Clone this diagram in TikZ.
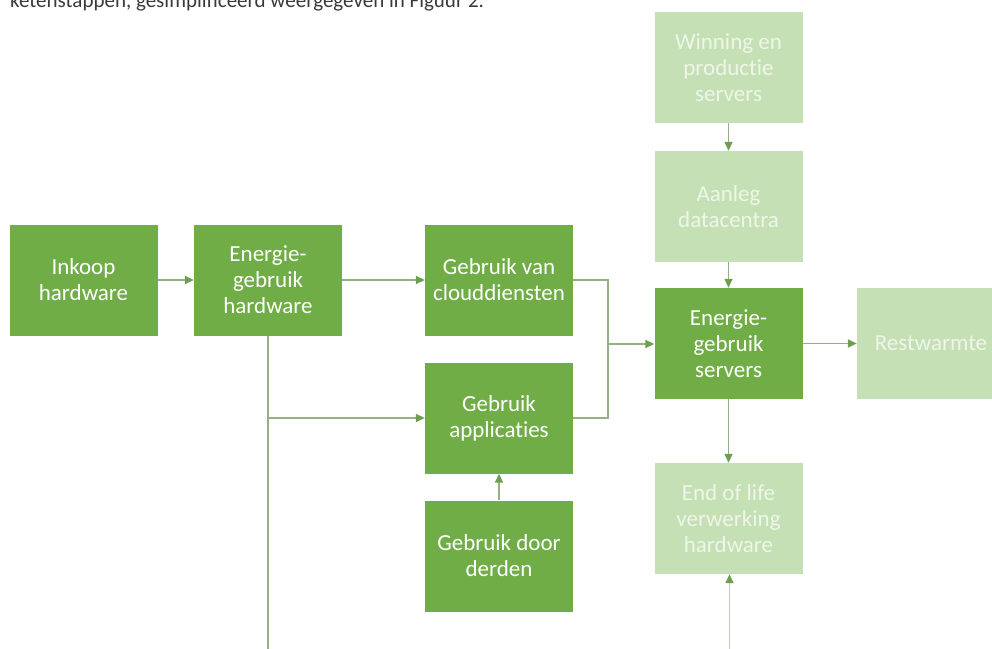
\documentclass[tikz,border=0pt]{standalone}
\usepackage{xcolor}
\usepackage{fontspec}
\setmainfont{Carlito}[Ligatures=NoCommon, RawFeature={-liga;-clig}]
\usepackage{tikz}
\usetikzlibrary{arrows.meta,positioning,calc}
\definecolor{darkgreen}{HTML}{70AD47}
\definecolor{lightgreen}{HTML}{C5E0B4}
\definecolor{paletext}{HTML}{EEF6E9}
\definecolor{linegreen}{HTML}{93B182}
\definecolor{tipgreen}{HTML}{6E9F50}
\definecolor{faintgreen}{HTML}{C2D1B8}
\definecolor{bodytext}{HTML}{3A3A3A}

\begin{document}
\begin{tikzpicture}[
    x=1pt, y=-1pt,
    box/.style={minimum width=148pt, minimum height=111pt, align=center, inner sep=2pt, font=\fontsize{23}{26}\selectfont},
    mainbox/.style={box, fill=darkgreen, text=white},
    sidebox/.style={box, fill=lightgreen, text=paletext},
    arrow/.style={-{Triangle[length=9pt, width=8pt, color=tipgreen]}, line width=1.5pt, draw=linegreen},
    plain/.style={line width=1.5pt, draw=linegreen}
]
\useasboundingbox (0,0) rectangle (992,648);
\clip (0,0) rectangle (992,648);
\fill[white] (0,0) rectangle (992,648);

% text above the figure, cut off at the top
\node[anchor=base west, inner sep=0pt, text=bodytext, font=\fontsize{21}{24}\selectfont] (caption) at (10,7) {ketenstappen, gesimplificeerd weergegeven in Figuur 2.};

% chain on the left
\node[mainbox] (inkoop) at (83.5,280) {Inkoop\\hardware};
\node[mainbox] (hwenergie) at (268,280) {Energie-\\gebruik\\hardware};
\node[mainbox] (cloud) at (499,280) {Gebruik van\\clouddiensten};
\node[mainbox] (apps) at (499,418) {Gebruik\\applicaties};
\node[mainbox] (derden) at (499,556) {Gebruik door\\derden};

% server column
\node[sidebox] (winning) at (728.5,67.5) {Winning en\\productie\\servers};
\node[sidebox] (aanleg) at (728.5,206.5) {Aanleg\\datacentra};
\node[mainbox] (srvenergie) at (728.5,343.5) {Energie-\\gebruik\\servers};
\node[sidebox] (restwarmte) at (931,343.5) {Restwarmte};
\node[sidebox] (eol) at (728.5,518.5) {End of life\\verwerking\\hardware};

\coordinate (merge) at (608,344);
\coordinate (hwdown) at (268,650);
\coordinate (eolup) at (729.5,650);

\draw[arrow] (inkoop) -- (hwenergie);
\draw[arrow] (hwenergie) -- (cloud);
\draw[plain] (hwenergie.south) -- (hwdown);
\draw[arrow] (hwenergie.south |- apps.west) -- (apps.west);
\draw[plain] (cloud.east) -| (merge);
\draw[plain] (apps.east) -| (merge);
\draw[arrow] (merge) -- (merge -| srvenergie.west);
\draw[arrow] (derden) -- (apps);
\draw[arrow] (winning) -- (aanleg);
\draw[arrow] (aanleg) -- (srvenergie);
\draw[arrow] (srvenergie) -- (restwarmte);
\draw[arrow] (srvenergie) -- (eol);
\draw[arrow, draw=faintgreen] (eolup) -- (eol.south -| eolup);
\end{tikzpicture}
\end{document}
